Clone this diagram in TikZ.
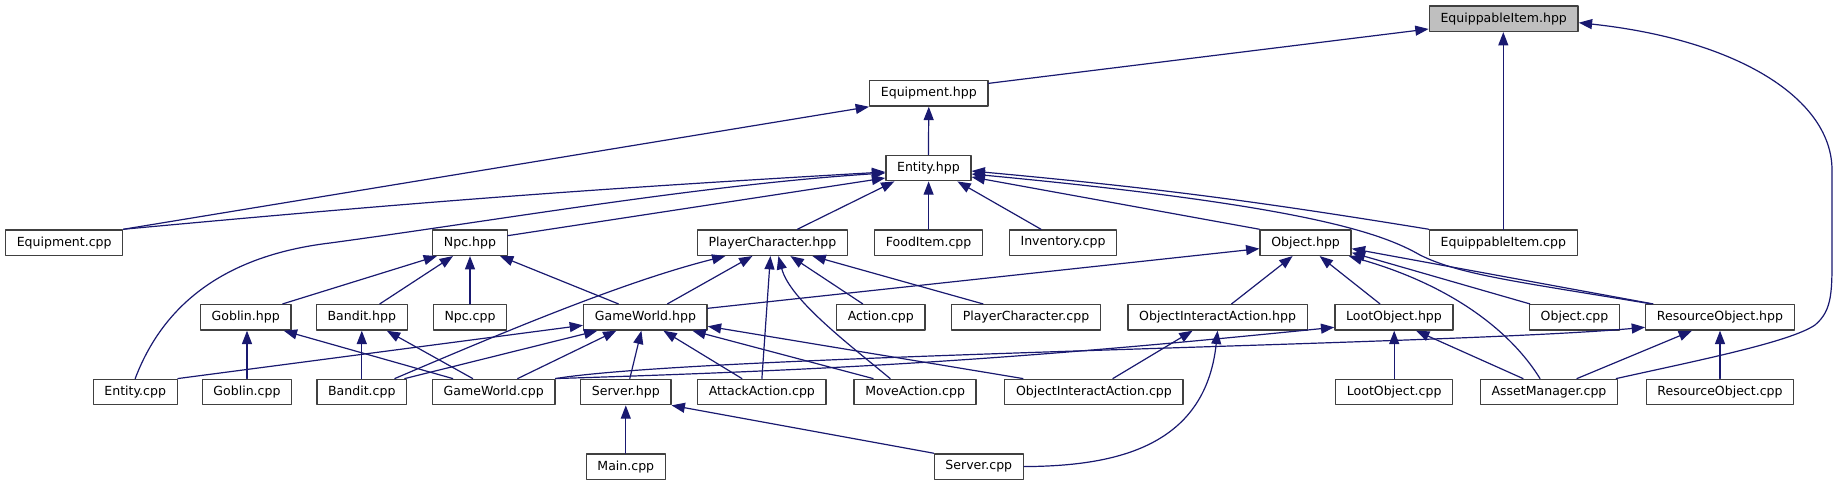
\documentclass[tikz,border=0pt]{standalone}
\usepackage{fontspec}
\setmainfont{DejaVu Sans}
\usetikzlibrary{arrows.meta,calc}
\definecolor{edgeblue}{HTML}{191970}
\definecolor{boxline}{HTML}{404040}
\definecolor{boxgray}{HTML}{BFBFBF}

\begin{document}
\begin{tikzpicture}[x=0.75pt,y=-0.75pt,line cap=round,line join=round,
  filenode/.style={draw=boxline,line width=1pt,fill=white,minimum height=19.1pt,
    inner xsep=8.4pt,inner ysep=0pt,font=\fontsize{9.4}{11}\selectfont},
  mainfile/.style={filenode,fill=boxgray},
  incl/.style={draw=edgeblue,line width=0.9pt,-{Triangle[length=10pt,width=7.5pt]}}]
\useasboundingbox (0,0) rectangle (1839,485);
\node[mainfile] (eqih) at (1503.7,18.7) {EquippableItem.hpp};
\node[filenode] (eqh) at (928.8,93.35) {Equipment.hpp};
\node[filenode] (enth) at (928.4,168) {Entity.hpp};
\node[filenode] (eqcpp) at (64.2,242.65) {Equipment.cpp};
\node[filenode] (npch) at (470,242.65) {Npc.hpp};
\node[filenode] (pch) at (772.4,242.65) {PlayerCharacter.hpp};
\node[filenode] (foodcpp) at (928.6,242.65) {FoodItem.cpp};
\node[filenode] (invcpp) at (1063,242.65) {Inventory.cpp};
\node[filenode] (objh) at (1305.6,242.65) {Object.hpp};
\node[filenode] (eqicpp) at (1503.3,242.65) {EquippableItem.cpp};
\node[filenode] (gobh) at (245.7,317.3) {Goblin.hpp};
\node[filenode] (banh) at (361.8,317.3) {Bandit.hpp};
\node[filenode] (npccpp) at (470,317.3) {Npc.cpp};
\node[filenode] (gwh) at (645.4,317.3) {GameWorld.hpp};
\node[filenode] (actcpp) at (880.8,317.3) {Action.cpp};
\node[filenode] (pccpp) at (1026,317.3) {PlayerCharacter.cpp};
\node[filenode] (oiah) at (1217.6,317.3) {ObjectInteractAction.hpp};
\node[filenode] (looth) at (1394,317.3) {LootObject.hpp};
\node[filenode] (objcpp) at (1574.5,317.3) {Object.cpp};
\node[filenode] (resh) at (1720,317.3) {ResourceObject.hpp};
\node[filenode] (entcpp) at (135.2,391.95) {Entity.cpp};
\node[filenode] (gobcpp) at (247,391.95) {Goblin.cpp};
\node[filenode] (bancpp) at (361.8,391.95) {Bandit.cpp};
\node[filenode] (gwcpp) at (493.7,391.95) {GameWorld.cpp};
\node[filenode] (srvh) at (625.8,391.95) {Server.hpp};
\node[filenode] (atkcpp) at (761.9,391.95) {AttackAction.cpp};
\node[filenode] (movcpp) at (915.1,391.95) {MoveAction.cpp};
\node[filenode] (oiacpp) at (1093.9,391.95) {ObjectInteractAction.cpp};
\node[filenode] (lootcpp) at (1394.2,391.95) {LootObject.cpp};
\node[filenode] (assetcpp) at (1549,391.95) {AssetManager.cpp};
\node[filenode] (rescpp) at (1720,391.95) {ResourceObject.cpp};
\node[filenode] (maincpp) at (625.8,466.6) {Main.cpp};
\node[filenode] (srvcpp) at (978.8,466.6) {Server.cpp};
\draw[incl] ($(eqh.east)+(0,-10)$) -- ($(eqih.west)+(0,10.3)$);
\draw[incl] (eqicpp.north) -- (eqicpp.north |- eqih.south);
\draw[incl] ($(assetcpp.north east)+(-2,0)$) .. controls (1700,360) and (1790,342) .. (1815,325)
  .. controls (1833,310) and (1832,290) .. (1832,250) -- (1832,170)
  .. controls (1832,100) and (1740,40) .. ($(eqih.east)+(0,4)$);
\draw[incl] (enth.north) -- (eqh.south);
\draw[incl] (eqcpp.north east) -- (eqh.south west);
\draw[incl] (eqcpp.north east) to[bend left=1] ($(enth.west)+(0,4)$);
\draw[incl] (entcpp.north) .. controls (165,300) and (230,255) .. (330,243)
  .. controls (500,220) and (700,185) .. ($(enth.west)+(0,5)$);
\draw[incl] ($(npch.east)+(0,-7)$) -- ($(enth.west)+(0,10)$);
\draw[incl] ($(pch.north)+(25,0)$) -- ($(enth.south)+(-34,0)$);
\draw[incl] (foodcpp.north) -- (foodcpp.north |- enth.south);
\draw[incl] ($(invcpp.north)+(-22,0)$) -- ($(enth.south)+(29,0)$);
\draw[incl] (objh.north west) -- ($(enth.east)+(0,9)$);
\draw[incl] (eqicpp.north west) to[bend right=2] ($(enth.east)+(0,3)$);
\draw[incl] ($(resh.north west)+(6,0)$) .. controls (1520,282) and (1460,275) .. (1420,255)
  .. controls (1380,232) and (1300,205) .. ($(enth.east)+(0,6)$);
\draw[incl] ($(gobh.north)+(37,0)$) -- ($(npch.south)+(-33,0)$);
\draw[incl] ($(banh.north)+(18,0)$) -- ($(npch.south)+(-17,0)$);
\draw[incl] (npccpp.north) -- (npch.south);
\draw[incl] ($(gwh.north)+(-27,0)$) -- ($(npch.south)+(30,0)$);
\draw[incl] (gobcpp.north) -- (gobcpp.north |- gobh.south);
\draw[incl] ($(gwcpp.north)+(-41,0)$) -- ($(gobh.south)+(38,0)$);
\draw[incl] (bancpp.north) -- (banh.south);
\draw[incl] ($(gwcpp.north)+(-21,0)$) -- ($(banh.south)+(25,0)$);
\draw[incl] (entcpp.north east) -- ($(gwh.west)+(0,8)$);
\draw[incl] ($(bancpp.north)+(43,0)$) -- ($(gwh.south)+(-48,0)$);
\draw[incl] ($(gwcpp.north)+(24,0)$) -- ($(gwh.south)+(-29,0)$);
\draw[incl] ($(srvh.north)+(4,0)$) -- ($(gwh.south)+(-4,0)$);
\draw[incl] ($(atkcpp.north)+(-20,0)$) -- ($(gwh.south)+(18,0)$);
\draw[incl] ($(movcpp.north)+(-42,0)$) -- ($(gwh.south)+(47,0)$);
\draw[incl] ($(oiacpp.north)+(-71,0)$) -- ($(gwh.east)+(0,9)$);
\draw[incl] ($(bancpp.north)+(33,0)$) .. controls (520,325) and (630,280) .. ($(pch.south)+(-47,0)$);
\draw[incl] ($(gwh.north)+(22,0)$) -- ($(pch.south)+(-20,0)$);
\draw[incl] (atkcpp.north) -- ($(pch.south)+(-2,0)$);
\draw[incl] ($(movcpp.north)+(-25,0)$) .. controls (850,345) and (790,300) .. ($(pch.south)+(6,0)$);
\draw[incl] ($(actcpp.north)+(-18,0)$) -- ($(pch.south)+(18,0)$);
\draw[incl] ($(pccpp.north)+(-43,0)$) -- ($(pch.south)+(40,0)$);
\draw[incl] ($(gwh.east)+(0,-9)$) -- ($(objh.west)+(0,6)$);
\draw[incl] ($(oiah.north)+(14,0)$) -- ($(objh.south)+(-13,0)$);
\draw[incl] ($(looth.north)+(-14,0)$) -- ($(objh.south)+(14,0)$);
\draw[incl] ($(assetcpp.north)+(-9,0)$) .. controls (1510,330) and (1450,285) .. ($(objh.south east)+(-3,0)$);
\draw[incl] ($(objcpp.north west)+(1,0)$) -- ($(objh.east)+(0,10)$);
\draw[incl] ($(resh.north west)+(8,0)$) -- ($(objh.east)+(0,6)$);
\draw[incl] ($(oiacpp.north)+(19,0)$) -- ($(oiah.south)+(-25,0)$);
\draw[incl] (srvcpp.east) .. controls (1110,466) and (1205,450) .. (oiah.south);
\draw[incl] (gwcpp.north east) to[bend right=2] ($(looth.west)+(0,10)$);
\draw[incl] (gwcpp.north east) .. controls (700,355) and (1450,345) .. ($(resh.west)+(0,10)$);
\draw[incl] (lootcpp.north) -- (lootcpp.north |- looth.south);
\draw[incl] ($(assetcpp.north)+(-26,0)$) -- ($(looth.south)+(22,0)$);
\draw[incl] ($(assetcpp.north)+(28,0)$) -- ($(resh.south)+(-28,0)$);
\draw[incl] (rescpp.north) -- (resh.south);
\draw[incl] (maincpp.north) -- (srvh.south);
\draw[incl] (srvcpp.north west) -- (srvh.south east);
\end{tikzpicture}
\end{document}
